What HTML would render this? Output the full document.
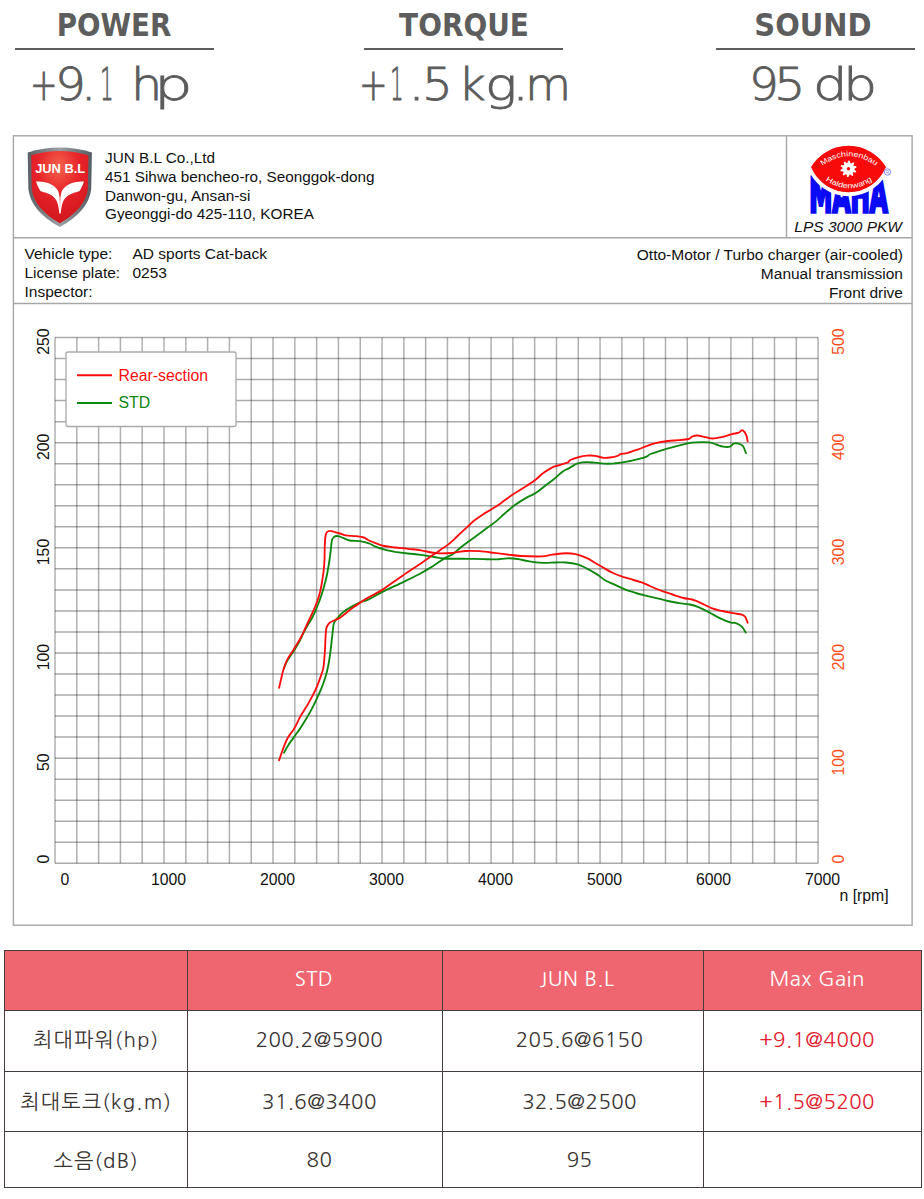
<!DOCTYPE html>
<html><head><meta charset="utf-8">
<style>
html,body{margin:0;padding:0;background:#fff;}
body{width:924px;height:1199px;position:relative;overflow:hidden;font-family:"Liberation Sans",Arial,sans-serif;}
.t{position:absolute;width:300px;text-align:center;top:7px;font-family:"DejaVu Sans",sans-serif;font-weight:bold;font-size:32px;line-height:36px;color:#5d5d5d;}
.ln{position:absolute;top:47.5px;height:2px;background:#5e5e5e;}
.vc{position:absolute;top:55px;font-family:"DejaVu Sans",sans-serif;font-weight:200;font-size:45px;line-height:60px;color:#5c5c5c;-webkit-text-stroke:0.85px #5c5c5c;white-space:pre;}
.vc .ch{display:inline-block;transform-origin:0 0;}
svg{position:absolute;left:0;top:0;}
</style></head><body>
<div class="t" style="left:-36.3px;transform:scaleX(0.866)">POWER</div><div class="ln" style="left:15px;width:199px"></div>
<div class="t" style="left:313.9px;transform:scaleX(0.873)">TORQUE</div><div class="ln" style="left:364px;width:199px"></div>
<div class="t" style="left:663.25px;transform:scaleX(0.905)">SOUND</div><div class="ln" style="left:716px;width:199px"></div>
<div class="vc" style="left:30.08px"><span class="ch" style="width:24.70px;transform:scaleX(0.730)">+</span><span class="ch" style="width:25.92px;transform:scaleX(1.081)">9</span><span class="ch" style="width:19.10px;transform:scaleX(1.067)">.</span><span class="ch" style="width:31.40px;transform:scaleX(0.475)">1</span><span class="ch" style="width:0"> </span><span class="ch" style="width:23.04px;transform:scaleX(1.100)">h</span><span class="ch" style="width:40.00px;transform:scaleX(1.352)">p</span></div>
<div class="vc" style="left:358.66px"><span class="ch" style="width:31.34px;transform:scaleX(0.760)">+</span><span class="ch" style="width:18.50px;transform:scaleX(0.475)">1</span><span class="ch" style="width:13.60px;transform:scaleX(1.200)">.</span><span class="ch" style="width:36.17px;transform:scaleX(1.075)">5</span><span class="ch" style="width:0"> </span><span class="ch" style="width:26.46px;transform:scaleX(1.061)">k</span><span class="ch" style="width:27.37px;transform:scaleX(1.190)">g</span><span class="ch" style="width:12.63px;transform:scaleX(1.200)">.</span><span class="ch" style="width:40.00px;transform:scaleX(1.054)">m</span></div>
<div class="vc" style="left:748.83px"><span class="ch" style="width:24.87px;transform:scaleX(1.043)">9</span><span class="ch" style="width:39.27px;transform:scaleX(1.100)">5</span><span class="ch" style="width:0"> </span><span class="ch" style="width:29.85px;transform:scaleX(1.210)">d</span><span class="ch" style="width:40.00px;transform:scaleX(1.195)">b</span></div>
<svg width="924" height="1199" viewBox="0 0 924 1199">
<g fill="none" stroke="#a6a6a6" stroke-width="1.4">
<rect x="13.4" y="135.8" width="898.7" height="789.4"/>
<line x1="13.5" y1="237.8" x2="912" y2="237.8"/>
<line x1="13.5" y1="303.5" x2="912" y2="303.5"/>
<line x1="786.5" y1="135.5" x2="786.5" y2="237.8"/>
</g>
<g stroke="#000" stroke-opacity="0.31" stroke-width="1.5">
<line x1="55.00" y1="337.50" x2="55.00" y2="863.30"/>
<line x1="76.80" y1="337.50" x2="76.80" y2="863.30"/>
<line x1="98.61" y1="337.50" x2="98.61" y2="863.30"/>
<line x1="120.41" y1="337.50" x2="120.41" y2="863.30"/>
<line x1="142.21" y1="337.50" x2="142.21" y2="863.30"/>
<line x1="164.01" y1="337.50" x2="164.01" y2="863.30"/>
<line x1="185.82" y1="337.50" x2="185.82" y2="863.30"/>
<line x1="207.62" y1="337.50" x2="207.62" y2="863.30"/>
<line x1="229.42" y1="337.50" x2="229.42" y2="863.30"/>
<line x1="251.23" y1="337.50" x2="251.23" y2="863.30"/>
<line x1="273.03" y1="337.50" x2="273.03" y2="863.30"/>
<line x1="294.83" y1="337.50" x2="294.83" y2="863.30"/>
<line x1="316.63" y1="337.50" x2="316.63" y2="863.30"/>
<line x1="338.44" y1="337.50" x2="338.44" y2="863.30"/>
<line x1="360.24" y1="337.50" x2="360.24" y2="863.30"/>
<line x1="382.04" y1="337.50" x2="382.04" y2="863.30"/>
<line x1="403.85" y1="337.50" x2="403.85" y2="863.30"/>
<line x1="425.65" y1="337.50" x2="425.65" y2="863.30"/>
<line x1="447.45" y1="337.50" x2="447.45" y2="863.30"/>
<line x1="469.25" y1="337.50" x2="469.25" y2="863.30"/>
<line x1="491.06" y1="337.50" x2="491.06" y2="863.30"/>
<line x1="512.86" y1="337.50" x2="512.86" y2="863.30"/>
<line x1="534.66" y1="337.50" x2="534.66" y2="863.30"/>
<line x1="556.47" y1="337.50" x2="556.47" y2="863.30"/>
<line x1="578.27" y1="337.50" x2="578.27" y2="863.30"/>
<line x1="600.07" y1="337.50" x2="600.07" y2="863.30"/>
<line x1="621.87" y1="337.50" x2="621.87" y2="863.30"/>
<line x1="643.68" y1="337.50" x2="643.68" y2="863.30"/>
<line x1="665.48" y1="337.50" x2="665.48" y2="863.30"/>
<line x1="687.28" y1="337.50" x2="687.28" y2="863.30"/>
<line x1="709.09" y1="337.50" x2="709.09" y2="863.30"/>
<line x1="730.89" y1="337.50" x2="730.89" y2="863.30"/>
<line x1="752.69" y1="337.50" x2="752.69" y2="863.30"/>
<line x1="774.49" y1="337.50" x2="774.49" y2="863.30"/>
<line x1="796.30" y1="337.50" x2="796.30" y2="863.30"/>
<line x1="818.10" y1="337.50" x2="818.10" y2="863.30"/>
</g><g stroke="#000" stroke-opacity="0.33" stroke-width="1.5">
<line x1="55.00" y1="337.50" x2="818.10" y2="337.50"/>
<line x1="55.00" y1="358.53" x2="818.10" y2="358.53"/>
<line x1="55.00" y1="379.56" x2="818.10" y2="379.56"/>
<line x1="55.00" y1="400.60" x2="818.10" y2="400.60"/>
<line x1="55.00" y1="421.63" x2="818.10" y2="421.63"/>
<line x1="55.00" y1="442.66" x2="818.10" y2="442.66"/>
<line x1="55.00" y1="463.69" x2="818.10" y2="463.69"/>
<line x1="55.00" y1="484.72" x2="818.10" y2="484.72"/>
<line x1="55.00" y1="505.76" x2="818.10" y2="505.76"/>
<line x1="55.00" y1="526.79" x2="818.10" y2="526.79"/>
<line x1="55.00" y1="547.82" x2="818.10" y2="547.82"/>
<line x1="55.00" y1="568.85" x2="818.10" y2="568.85"/>
<line x1="55.00" y1="589.88" x2="818.10" y2="589.88"/>
<line x1="55.00" y1="610.92" x2="818.10" y2="610.92"/>
<line x1="55.00" y1="631.95" x2="818.10" y2="631.95"/>
<line x1="55.00" y1="652.98" x2="818.10" y2="652.98"/>
<line x1="55.00" y1="674.01" x2="818.10" y2="674.01"/>
<line x1="55.00" y1="695.04" x2="818.10" y2="695.04"/>
<line x1="55.00" y1="716.08" x2="818.10" y2="716.08"/>
<line x1="55.00" y1="737.11" x2="818.10" y2="737.11"/>
<line x1="55.00" y1="758.14" x2="818.10" y2="758.14"/>
<line x1="55.00" y1="779.17" x2="818.10" y2="779.17"/>
<line x1="55.00" y1="800.20" x2="818.10" y2="800.20"/>
<line x1="55.00" y1="821.24" x2="818.10" y2="821.24"/>
<line x1="55.00" y1="842.27" x2="818.10" y2="842.27"/>
<line x1="55.00" y1="863.30" x2="818.10" y2="863.30"/>
</g>
<g fill="none" stroke-width="1.85" stroke-linejoin="round" stroke-linecap="round">
<path stroke="#0f870f" d="M284.0,752.7 C284.8,751.3 286.9,747.2 288.7,744.5 C290.4,741.8 292.6,739.0 294.5,736.3 C296.4,733.6 298.4,731.0 300.4,728.1 C302.3,725.2 304.2,722.1 306.2,718.8 C308.1,715.5 310.4,711.6 312.1,708.3 C313.9,705.0 315.1,702.2 316.7,698.9 C318.2,695.6 319.9,692.1 321.4,688.4 C322.9,684.7 324.3,680.6 325.5,676.7 C326.7,672.8 327.6,668.9 328.4,665.0 C329.2,661.1 329.7,657.3 330.2,653.4 C330.7,649.5 331.2,645.4 331.6,641.7 C332.0,638.0 332.4,634.1 332.8,631.0 C333.2,627.9 333.1,625.2 334.0,623.0 C334.9,620.8 336.5,619.3 338.0,617.5 C339.5,615.7 340.6,614.1 343.0,612.2 C345.4,610.4 349.1,608.1 352.1,606.4 C355.1,604.7 358.6,602.9 361.2,601.8 C363.8,600.7 364.2,601.5 367.7,599.9 C371.1,598.3 376.1,595.0 381.9,592.1 C387.7,589.2 396.2,585.4 402.7,582.3 C409.2,579.1 415.7,576.0 420.9,573.2 C426.1,570.4 429.8,568.0 433.9,565.5 C437.9,563.0 442.0,559.8 445.2,557.9 C448.4,556.0 450.3,555.9 453.0,554.0 C455.7,552.1 458.7,549.0 461.6,546.7 C464.5,544.4 467.4,542.3 470.3,540.2 C473.2,538.1 476.1,536.2 479.0,534.1 C481.9,532.0 484.7,529.8 487.6,527.6 C490.5,525.4 493.4,523.5 496.3,521.1 C499.2,518.7 502.0,515.8 504.9,513.3 C507.8,510.8 511.1,507.9 513.6,506.0 C516.1,504.1 517.8,503.0 520.0,501.6 C522.2,500.2 524.5,498.8 527.1,497.4 C529.7,496.0 532.6,495.0 535.7,493.0 C538.8,491.0 542.4,487.8 545.5,485.5 C548.6,483.2 551.2,481.4 554.1,479.0 C557.0,476.6 560.3,473.2 562.8,471.4 C565.3,469.6 567.5,469.1 569.3,468.1 C571.1,467.1 572.2,466.2 573.6,465.4 C575.0,464.6 575.7,463.8 577.9,463.3 C580.1,462.8 583.8,462.3 586.6,462.2 C589.5,462.1 592.1,462.5 595.0,462.7 C597.9,462.9 600.8,463.5 603.7,463.6 C606.6,463.8 609.4,463.8 612.3,463.6 C615.2,463.5 618.1,463.1 621.0,462.7 C623.9,462.3 626.4,461.7 629.6,461.0 C632.8,460.3 637.1,459.5 640.0,458.7 C642.9,457.9 645.3,457.1 647.0,456.3 C648.7,455.5 648.1,454.9 650.4,454.0 C652.7,453.1 657.0,451.8 660.8,450.6 C664.5,449.5 668.6,448.3 672.9,447.1 C677.2,445.9 683.0,444.4 686.8,443.6 C690.5,442.8 691.6,442.5 695.4,442.3 C699.1,442.1 705.8,442.0 709.3,442.4 C712.8,442.8 713.9,443.8 716.2,444.5 C718.5,445.2 720.8,446.2 723.1,446.6 C725.4,447.0 728.4,447.1 730.1,446.6 C731.8,446.1 732.1,444.1 733.5,443.6 C734.9,443.1 737.1,443.2 738.7,443.6 C740.3,444.0 741.9,444.6 743.1,446.2 C744.3,447.8 745.5,452.0 746.0,453.2"/>
<path stroke="#0f870f" d="M283.8,668.6 C284.4,667.2 285.9,663.2 287.5,660.4 C289.1,657.6 291.4,654.7 293.4,651.6 C295.3,648.5 297.3,645.3 299.2,641.7 C301.1,638.1 302.9,634.0 305.0,630.0 C307.1,626.0 310.0,621.8 312.0,618.0 C314.0,614.2 315.4,610.8 317.0,607.0 C318.6,603.2 320.2,599.0 321.5,595.0 C322.8,591.0 324.0,586.8 325.0,583.0 C326.0,579.2 326.8,575.8 327.5,572.0 C328.2,568.2 328.9,564.0 329.5,560.0 C330.1,556.0 330.6,551.3 331.0,548.0 C331.4,544.7 331.5,541.8 332.0,540.0 C332.5,538.2 333.2,537.7 334.0,537.0 C334.8,536.3 335.8,536.0 337.0,536.0 C338.2,536.0 338.9,536.2 341.0,537.0 C343.1,537.8 346.4,539.8 349.5,540.5 C352.6,541.2 356.6,540.7 359.9,541.2 C363.1,541.7 366.4,542.5 369.0,543.4 C371.6,544.3 372.9,545.6 375.5,546.6 C378.1,547.6 381.3,548.7 384.5,549.6 C387.7,550.5 391.0,551.1 394.9,551.8 C398.8,552.4 403.6,553.0 407.9,553.5 C412.2,554.0 416.6,554.2 420.9,554.8 C425.2,555.4 430.2,556.4 433.9,557.0 C437.6,557.6 439.4,558.2 443.0,558.5 C446.6,558.8 451.0,558.7 455.4,558.7 C459.8,558.8 464.5,558.7 469.2,558.8 C473.9,558.9 478.8,559.1 483.3,559.2 C487.8,559.3 492.3,559.5 496.3,559.4 C500.3,559.2 503.7,558.4 507.3,558.3 C510.9,558.2 514.2,558.5 517.7,559.0 C521.2,559.5 524.1,560.5 528.1,561.1 C532.1,561.8 537.4,562.7 542.0,562.9 C546.6,563.1 551.8,562.6 555.8,562.5 C559.8,562.4 562.7,562.2 566.2,562.5 C569.7,562.8 573.1,563.2 576.6,564.2 C580.1,565.2 583.5,566.9 587.0,568.6 C590.5,570.3 594.4,572.7 597.4,574.6 C600.4,576.5 602.2,578.6 605.0,580.2 C607.8,581.8 610.8,582.9 614.1,584.4 C617.4,585.9 621.3,588.0 624.9,589.4 C628.5,590.8 632.2,591.9 635.8,593.0 C639.4,594.1 643.0,594.9 646.6,595.8 C650.2,596.7 653.8,597.5 657.4,598.4 C661.0,599.3 664.6,600.2 668.2,601.0 C671.8,601.8 675.4,602.6 679.0,603.2 C682.6,603.8 686.6,603.9 689.9,604.5 C693.1,605.1 695.2,605.8 698.5,607.1 C701.8,608.4 705.8,610.6 709.4,612.5 C713.0,614.4 716.6,616.7 720.2,618.4 C723.8,620.1 728.5,622.0 731.0,622.7 C733.5,623.5 733.5,622.2 735.3,622.9 C737.1,623.5 740.1,625.0 741.8,626.6 C743.5,628.2 745.1,631.6 745.7,632.6"/>
<path stroke="#fc0d0d" d="M279.1,760.3 C279.5,759.0 280.7,755.5 281.7,752.7 C282.7,749.9 284.0,746.0 285.2,743.3 C286.4,740.6 287.1,738.8 288.7,736.3 C290.2,733.8 292.6,731.4 294.5,728.1 C296.4,724.8 298.4,719.9 300.4,716.4 C302.3,712.9 304.2,710.4 306.2,707.1 C308.1,703.8 310.4,699.9 312.1,696.6 C313.9,693.3 315.4,690.3 316.7,687.2 C318.0,684.1 319.1,681.0 320.2,677.9 C321.3,674.8 322.5,671.7 323.2,668.6 C323.9,665.5 324.0,662.7 324.3,659.2 C324.6,655.7 324.9,651.4 325.1,647.5 C325.3,643.6 325.4,639.1 325.6,636.0 C325.8,632.9 325.9,630.8 326.2,629.0 C326.5,627.2 326.9,626.6 327.5,625.5 C328.1,624.4 328.8,623.4 330.0,622.5 C331.2,621.6 333.3,620.9 335.0,620.0 C336.7,619.1 337.5,619.4 340.4,617.4 C343.2,615.4 347.8,611.4 352.1,608.3 C356.4,605.2 361.4,601.6 366.4,598.6 C371.4,595.6 377.1,593.0 381.9,590.1 C386.6,587.2 390.6,584.0 394.9,581.0 C399.2,578.0 403.6,574.8 407.9,571.9 C412.2,569.0 417.2,566.0 420.9,563.5 C424.6,561.0 426.8,559.2 430.0,557.0 C433.2,554.8 436.9,552.4 440.0,550.2 C443.1,548.1 445.8,546.4 448.7,544.1 C451.6,541.8 454.4,539.0 457.3,536.3 C460.2,533.6 463.1,530.8 466.0,528.1 C468.9,525.4 471.7,522.6 474.6,520.3 C477.5,518.0 480.4,516.1 483.3,514.2 C486.2,512.3 489.0,510.8 491.9,509.0 C494.8,507.2 497.7,505.4 500.6,503.4 C503.5,501.4 506.1,499.1 509.3,496.9 C512.5,494.7 517.0,491.9 520.0,490.0 C523.0,488.1 524.7,487.1 527.1,485.5 C529.5,483.9 531.9,482.7 534.6,480.6 C537.3,478.5 540.4,475.2 543.3,473.0 C546.2,470.8 549.8,468.8 552.0,467.6 C554.2,466.4 554.1,466.7 556.3,466.0 C558.4,465.3 562.9,463.9 564.9,463.3 C566.9,462.7 567.3,462.8 568.2,462.2 C569.1,461.6 568.7,460.8 570.3,460.0 C571.9,459.2 575.2,458.0 577.9,457.3 C580.6,456.6 583.8,455.9 586.6,455.7 C589.5,455.4 592.1,455.4 595.0,455.8 C597.9,456.2 600.8,457.6 603.7,457.8 C606.6,458.0 610.0,457.5 612.3,457.2 C614.6,456.9 616.0,456.3 617.5,455.8 C619.0,455.3 619.3,454.5 621.0,454.0 C622.7,453.5 625.0,453.6 627.9,452.8 C630.8,452.0 635.1,450.5 638.3,449.4 C641.5,448.2 644.1,446.9 647.0,445.9 C649.9,444.8 652.1,443.9 655.6,443.1 C659.1,442.3 664.0,441.5 667.7,441.0 C671.5,440.5 674.6,440.5 678.1,440.2 C681.6,439.9 686.2,439.6 688.5,439.0 C690.8,438.4 690.5,437.3 692.0,436.7 C693.5,436.1 694.9,435.4 697.2,435.5 C699.5,435.6 703.2,436.7 705.8,437.2 C708.4,437.7 710.1,438.5 712.7,438.5 C715.3,438.5 718.2,437.9 721.4,437.2 C724.6,436.5 728.9,434.9 731.8,434.1 C734.7,433.4 737.0,433.4 738.7,432.7 C740.4,432.0 741.2,430.2 742.2,430.1 C743.2,430.1 744.1,431.4 744.8,432.4 C745.5,433.4 746.0,434.4 746.5,435.9 C747.0,437.4 747.5,440.5 747.7,441.4"/>
<path stroke="#fc0d0d" d="M279.1,687.8 C279.4,686.3 280.4,682.1 281.1,679.1 C281.8,676.1 282.3,673.0 283.4,669.7 C284.5,666.4 285.8,662.5 287.5,659.2 C289.2,655.9 291.4,653.0 293.4,649.9 C295.3,646.8 297.3,643.8 299.2,640.5 C301.1,637.2 302.7,633.8 304.5,630.0 C306.3,626.2 308.2,621.8 310.0,618.0 C311.8,614.2 313.5,610.7 315.0,607.0 C316.5,603.3 317.9,599.7 319.0,596.0 C320.1,592.3 320.8,589.0 321.5,585.0 C322.2,581.0 323.0,576.2 323.5,572.0 C324.0,567.8 324.3,564.5 324.5,560.0 C324.7,555.5 324.6,549.0 324.8,545.0 C325.0,541.0 325.1,538.2 325.5,536.0 C325.9,533.8 326.2,532.9 327.0,532.0 C327.8,531.1 328.8,530.8 330.0,530.8 C331.2,530.8 332.3,531.3 334.0,531.8 C335.7,532.2 338.1,532.9 340.0,533.5 C341.9,534.1 342.9,534.8 345.6,535.3 C348.3,535.8 353.0,535.8 356.0,536.2 C359.0,536.6 361.6,536.8 363.8,537.5 C366.0,538.2 367.1,539.6 369.0,540.5 C370.9,541.4 372.9,542.2 375.5,543.1 C378.1,544.0 381.3,545.3 384.5,546.0 C387.7,546.7 391.0,547.0 394.9,547.5 C398.8,548.0 403.6,548.3 407.9,548.8 C412.2,549.3 417.0,549.7 420.9,550.3 C424.8,550.9 428.1,552.0 431.3,552.5 C434.5,553.0 436.4,553.2 440.0,553.3 C443.6,553.3 448.7,553.2 453.0,552.8 C457.3,552.4 461.6,551.3 466.0,551.0 C470.4,550.7 475.0,550.9 479.6,551.2 C484.2,551.5 488.9,552.2 493.5,552.8 C498.1,553.3 502.7,554.0 507.3,554.5 C511.9,555.0 515.4,555.7 521.2,556.0 C527.0,556.3 536.8,556.6 542.0,556.4 C547.2,556.2 548.4,555.2 552.4,554.7 C556.4,554.2 562.2,553.2 566.2,553.2 C570.2,553.2 573.1,553.6 576.6,554.4 C580.1,555.2 583.5,556.6 587.0,558.2 C590.5,559.8 594.4,562.5 597.4,564.2 C600.4,565.9 602.6,567.2 605.0,568.6 C607.4,570.0 609.0,571.1 612.0,572.5 C615.0,573.9 619.2,575.5 622.8,576.8 C626.4,578.0 630.4,579.0 633.6,580.0 C636.8,581.0 639.3,581.5 642.2,582.6 C645.1,583.7 647.6,585.1 650.9,586.5 C654.1,587.9 658.1,589.6 661.7,590.9 C665.3,592.2 669.0,593.3 672.6,594.5 C676.2,595.7 680.2,597.2 683.4,598.0 C686.6,598.8 689.1,598.7 692.0,599.5 C694.9,600.3 697.5,601.3 700.7,602.8 C704.0,604.2 707.9,606.8 711.5,608.2 C715.1,609.6 718.7,610.2 722.3,611.0 C725.9,611.8 730.0,612.6 733.2,613.2 C736.5,613.8 739.8,614.1 741.8,614.7 C743.8,615.3 744.1,615.5 745.1,616.8 C746.1,618.1 747.3,621.7 747.7,622.7"/>
</g>
<rect x="66" y="352" width="170" height="74.5" rx="2" fill="#fff" stroke="#aaa" stroke-width="1.3"/>
<line x1="77" y1="375.3" x2="112" y2="375.3" stroke="#fc0d0d" stroke-width="2"/>
<line x1="77" y1="403" x2="112" y2="403" stroke="#0f870f" stroke-width="2"/>
<g font-family="Liberation Sans, Arial, sans-serif" font-size="15.8">
<text x="118.5" y="380.8" fill="#fc0d0d">Rear-section</text>
<text x="118.5" y="408.3" fill="#0f870f">STD</text>
</g>
<g font-family="Liberation Sans, Arial, sans-serif" font-size="15.8" fill="#111">
<text transform="translate(48.8,859.0) rotate(-90)" text-anchor="middle">0</text>
<text transform="translate(48.8,762.3) rotate(-90)" text-anchor="middle">50</text>
<text transform="translate(48.8,657.2) rotate(-90)" text-anchor="middle">100</text>
<text transform="translate(48.8,552.0) rotate(-90)" text-anchor="middle">150</text>
<text transform="translate(48.8,446.9) rotate(-90)" text-anchor="middle">200</text>
<text transform="translate(48.8,341.7) rotate(-90)" text-anchor="middle">250</text>
<text x="65" y="885" text-anchor="middle">0</text>
<text x="168.5" y="885" text-anchor="middle">1000</text>
<text x="277.5" y="885" text-anchor="middle">2000</text>
<text x="386.5" y="885" text-anchor="middle">3000</text>
<text x="495.6" y="885" text-anchor="middle">4000</text>
<text x="604.6" y="885" text-anchor="middle">5000</text>
<text x="713.6" y="885" text-anchor="middle">6000</text>
<text x="822.6" y="885" text-anchor="middle">7000</text>
<text x="839.5" y="900.5">n [rpm]</text>
</g>
<g font-family="Liberation Sans, Arial, sans-serif" font-size="15.8" fill="#ff4d1a">
<text transform="translate(843.5,859.2) rotate(-90)" text-anchor="middle">0</text>
<text transform="translate(843.5,762.3) rotate(-90)" text-anchor="middle">100</text>
<text transform="translate(843.5,657.2) rotate(-90)" text-anchor="middle">200</text>
<text transform="translate(843.5,552.0) rotate(-90)" text-anchor="middle">300</text>
<text transform="translate(843.5,446.9) rotate(-90)" text-anchor="middle">400</text>
<text transform="translate(843.5,341.7) rotate(-90)" text-anchor="middle">500</text>
</g>
<g font-family="Liberation Sans, Arial, sans-serif" font-size="15.5" fill="#111">
<text x="105" y="162.7" font-size="15.3">JUN B.L Co.,Ltd</text>
<text x="105" y="181.8" font-size="15.3">451 Sihwa bencheo-ro, Seonggok-dong</text>
<text x="105" y="200.6" font-size="15.3">Danwon-gu, Ansan-si</text>
<text x="105" y="219.4" font-size="15.3">Gyeonggi-do 425-110, KOREA</text>
<text x="24.5" y="258.8">Vehicle type:</text>
<text x="132.5" y="258.8">AD sports Cat-back</text>
<text x="24.5" y="278">License plate:</text>
<text x="132.5" y="278">0253</text>
<text x="24.5" y="297">Inspector:</text>
<text x="903" y="259.6" text-anchor="end">Otto-Motor / Turbo charger (air-cooled)</text>
<text x="903" y="278.6" text-anchor="end">Manual transmission</text>
<text x="903" y="297.6" text-anchor="end">Front drive</text>
<text x="902" y="232" text-anchor="end" font-style="italic">LPS 3000 PKW</text>
</g>

<defs>
<radialGradient id="sg" cx="0.48" cy="0.22" r="0.8">
<stop offset="0" stop-color="#f2654c"/><stop offset="0.45" stop-color="#e8242a"/><stop offset="1" stop-color="#d0141c"/>
</radialGradient>
<linearGradient id="sb" x1="0" y1="0" x2="1" y2="0">
<stop offset="0" stop-color="#5a6065"/><stop offset="0.5" stop-color="#9aa0a4"/><stop offset="1" stop-color="#555b60"/>
</linearGradient>
<path id="arcT" d="M819.5,168 Q849,144.5 878.5,168"/>
<path id="arcB" d="M823.5,179 Q849,197.5 874.5,179"/>
</defs>
<path d="M27.7,152.4 Q59.8,142.8 91.9,152.4 L91.2,189 Q88.8,211 59.8,227 Q30.8,211 28.4,189 Z" fill="url(#sb)"/>
<path d="M31.2,155.3 Q59.8,146.8 88.4,155.3 L87.8,189 Q85.6,208.5 59.8,223.2 Q34,208.5 31.8,189 Z" fill="url(#sg)"/>
<text x="35.2" y="173" font-family="Liberation Sans, Arial, sans-serif" font-weight="bold" font-size="12.8" fill="#fff" textLength="50" lengthAdjust="spacingAndGlyphs">JUN B.L</text>
<path d="M36,181.6 C40,181.6 43,181.8 46,182.4 C50,183.4 53,185 54.6,186.8 C57,189 58.2,190.8 58.5,192 C59.4,195 59.7,198 59.8,200.6 L60,213.6 L59.3,213.6 C59,210 58.8,209 58.5,207.5 C57.8,204 57.2,202 56.4,200.6 C55,198.5 54,197.2 52.9,196.3 C50.5,194.6 48.5,193.6 46,192.8 C44,192.2 42,191.8 40.3,191.1 C38.5,188 37,184.5 36,181.6 Z" fill="#fff"/>
<path d="M84.0,181.6 C80.0,181.6 77.0,181.8 74.0,182.4 C70.0,183.4 67.0,185 65.4,186.8 C63.0,189 61.8,190.8 61.5,192 C60.6,195 60.3,198 60.2,200.6 L60.0,213.6 L60.7,213.6 C61.0,210 61.2,209 61.5,207.5 C62.2,204 62.8,202 63.6,200.6 C65.0,198.5 66.0,197.2 67.1,196.3 C69.5,194.6 71.5,193.6 74.0,192.8 C76.0,192.2 78.0,191.8 79.7,191.1 C81.5,188 83.0,184.5 84.0,181.6 Z" fill="#fff"/>
<text x="848.6" y="212.2" text-anchor="middle" font-family="DejaVu Sans, sans-serif" font-weight="bold" font-size="48" fill="#0a0af5" stroke="#0a0af5" stroke-width="3.6" stroke-linejoin="miter" textLength="78.5" lengthAdjust="spacingAndGlyphs">MAHA</text>
<path d="M808.5,167.1 A46,46 0 0 1 888.5,167.1 A42.5,42.5 0 0 1 808.5,167.1 Z" fill="#fff" stroke="#fff" stroke-width="2"/>
<path d="M811.7,167.1 A43,43 0 0 1 885.3,167.1 A39.9,39.9 0 0 1 811.7,167.1 Z" fill="#f80a0a" stroke="#f80a0a" stroke-width="1.2" stroke-linejoin="round"/>
<g fill="#fff" font-family="Liberation Sans, Arial, sans-serif" font-size="7.4">
<text><textPath href="#arcT" startOffset="50%" text-anchor="middle" textLength="58" lengthAdjust="spacingAndGlyphs">Maschinenbau</textPath></text>
<text><textPath href="#arcB" startOffset="50%" text-anchor="middle" textLength="50" lengthAdjust="spacingAndGlyphs">Haldenwang</textPath></text>
</g>
<polygon points="848.50,160.60 849.78,160.70 850.35,163.09 851.22,163.45 853.32,162.17 854.30,163.00 853.35,165.27 853.85,166.08 856.30,166.27 856.60,167.52 854.50,168.80 854.43,169.74 856.30,171.33 855.81,172.52 853.35,172.33 852.74,173.04 853.32,175.43 852.22,176.11 850.35,174.51 849.44,174.73 848.50,177.00 847.22,176.90 846.65,174.51 845.78,174.15 843.68,175.43 842.70,174.60 843.65,172.33 843.15,171.52 840.70,171.33 840.40,170.08 842.50,168.80 842.57,167.86 840.70,166.27 841.19,165.08 843.65,165.27 844.26,164.56 843.68,162.17 844.78,161.49 846.65,163.09 847.56,162.87" fill="#fff"/><circle cx="848.5" cy="168.8" r="1.7" fill="#f80a0a"/>
<circle cx="887.5" cy="172" r="3.2" fill="none" stroke="#8a8cf0" stroke-width="1"/>
<text x="887.5" y="174" text-anchor="middle" font-family="Liberation Sans, Arial, sans-serif" font-size="4.5" fill="#8a8cf0">R</text>
</svg>
<div style="position:absolute;left:0;top:0;">
<style>
.tb{position:absolute;left:4px;top:950px;border-collapse:collapse;font-family:"NanumGothic","Liberation Sans",sans-serif;color:#3a3434;font-size:20.5px;letter-spacing:0.4px;table-layout:fixed;width:917px;}
.tb td{border:1.2px solid #453c3c;text-align:center;padding:0;}
.tb tr.h td{background:#ef6670;color:#fff;}
.tb .r{color:#e3202e;}
.tb .k{letter-spacing:1.2px;}
.tb td span{position:relative;top:-1.5px;}
</style>
<table class="tb">
<colgroup><col style="width:183.4px"><col style="width:255px"><col style="width:260.3px"><col style="width:218.2px"></colgroup>
<tr class="h" style="height:60.1px"><td></td><td><span style="left:-1.5px">STD</span></td><td><span style="left:4px">JUN B.L</span></td><td><span style="left:4.8px">Max Gain</span></td></tr>
<tr style="height:61.1px"><td class="k"><span>최대파워(hp)</span></td><td><span style="left:4px">200.2@5900</span></td><td><span style="left:6.5px">205.6@6150</span></td><td class="r"><span style="left:4.8px">+9.1@4000</span></td></tr>
<tr style="height:60.3px"><td class="k"><span style="top:0">최대토크(kg.m)</span></td><td><span style="left:4px;top:0">31.6@3400</span></td><td><span style="left:6.5px;top:0">32.5@2500</span></td><td class="r"><span style="left:4.8px;top:0">+1.5@5200</span></td></tr>
<tr style="height:55.3px"><td class="k"><span style="top:1.5px">소음(dB)</span></td><td><span style="left:4px;top:0">80</span></td><td><span style="left:6.5px;top:0">95</span></td><td></td></tr>
</table></div>
</body></html>
